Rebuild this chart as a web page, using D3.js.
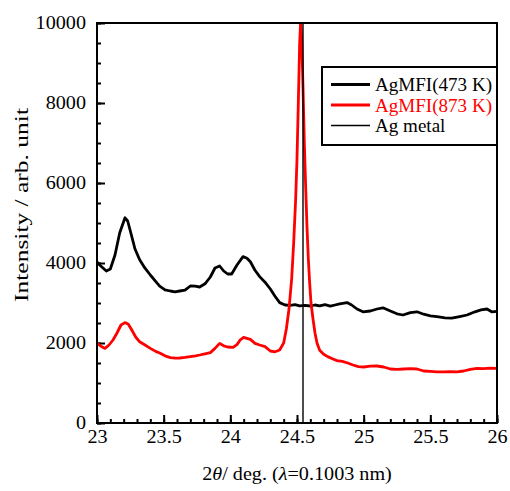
<!DOCTYPE html>
<html><head><meta charset="utf-8">
<script src="https://cdn.jsdelivr.net/npm/d3@7"></script>
<style>body{margin:0;background:#fff}</style>
</head><body><svg id="c" width="510" height="491"></svg>
<script>
const blackX = [23.00,23.02,23.07,23.10,23.135,23.17,23.21,23.23,23.25,23.285,23.32,23.36,23.40,23.435,23.47,23.51,23.55,23.585,23.62,23.66,23.70,23.735,23.77,23.81,23.85,23.885,23.92,23.95,23.98,24.01,24.05,24.095,24.125,24.15,24.185,24.22,24.26,24.30,24.335,24.37,24.41,24.45,24.485,24.52,24.56,24.60,24.635,24.67,24.71,24.75,24.785,24.82,24.875,24.91,24.95,24.995,25.05,25.10,25.145,25.20,25.25,25.295,25.35,25.40,25.45,25.50,25.55,25.61,25.66,25.72,25.775,25.835,25.88,25.925,25.96,26.00];
const blackY = [4025,3950,3800,3850,4200,4750,5130,5050,4800,4350,4080,3870,3700,3560,3420,3330,3300,3280,3300,3320,3425,3420,3400,3480,3650,3875,3925,3800,3725,3725,3950,4160,4120,4030,3820,3660,3520,3350,3170,3010,2950,2940,2960,2930,2940,2925,2950,2930,2960,2920,2950,2980,3010,2950,2850,2780,2800,2850,2880,2800,2730,2700,2760,2780,2720,2680,2660,2630,2620,2660,2700,2780,2830,2850,2780,2790];
const redX = [23.00,23.03,23.06,23.09,23.12,23.15,23.18,23.21,23.235,23.26,23.29,23.32,23.36,23.40,23.44,23.47,23.51,23.55,23.59,23.62,23.66,23.70,23.74,23.77,23.81,23.85,23.885,23.92,23.95,23.98,24.02,24.05,24.075,24.10,24.13,24.15,24.185,24.22,24.26,24.30,24.335,24.37,24.40,24.42,24.44,24.46,24.475,24.49,24.50,24.51,24.52,24.527,24.535,24.545,24.555,24.565,24.575,24.585,24.595,24.605,24.62,24.635,24.65,24.67,24.70,24.73,24.77,24.80,24.84,24.88,24.92,24.96,25.00,25.05,25.10,25.15,25.20,25.25,25.30,25.35,25.40,25.45,25.50,25.55,25.60,25.65,25.70,25.75,25.80,25.85,25.90,25.95,26.00];
const redY = [1990,1920,1865,1950,2075,2250,2450,2510,2470,2330,2150,2030,1950,1865,1790,1750,1680,1635,1620,1625,1640,1660,1680,1700,1730,1760,1865,1990,1930,1900,1890,1960,2080,2140,2110,2090,1990,1950,1910,1800,1780,1825,2000,2350,2850,3600,4500,5600,6600,8000,9500,10000,9600,8400,7000,5900,4900,4100,3500,3000,2600,2250,2000,1820,1720,1660,1600,1560,1540,1500,1450,1410,1400,1420,1425,1400,1350,1340,1350,1360,1350,1300,1290,1280,1280,1285,1280,1300,1340,1365,1360,1370,1365];
const agMetalX = 24.545;
const seriesNames = ["AgMFI(473 K)","AgMFI(873 K)","Ag metal"];
const seriesColors = ["#000000","#ff0000","#000000"];
const xTickValues = [23,23.5,24,24.5,25,25.5,26];
const yTickValues = [0,2000,4000,6000,8000,10000];

const FONT = "'Liberation Serif', 'Times New Roman', Times, serif";
const svg = d3.select("#c");
const m = {l:97,t:23,r:497,b:423};
const x = d3.scaleLinear().domain([23,26]).range([m.l,m.r]);
const y = d3.scaleLinear().domain([0,10000]).range([m.b,m.t]);
const SX = 1.12;

svg.append("defs").append("clipPath").attr("id","clip")
  .append("rect").attr("x",m.l).attr("y",m.t).attr("width",m.r-m.l).attr("height",m.b-m.t);

// x minor ticks
svg.append("g").attr("transform",`translate(0,${m.b})`)
  .call(d3.axisBottom(x).tickValues(d3.range(0,31).map(i=>+(23+i*0.1).toFixed(2))).tickSize(-4).tickFormat(""))
  .call(g=>g.select(".domain").remove());
// x major ticks
const gx = svg.append("g").attr("transform",`translate(0,${m.b})`)
  .call(d3.axisBottom(x).tickValues(xTickValues).tickSize(-8).tickPadding(7).tickFormat(d=>String(d)))
  .call(g=>g.select(".domain").remove());
gx.selectAll("text").attr("font-size",18).attr("transform",`scale(${SX},1)`);

// y minor ticks
svg.append("g").attr("transform",`translate(${m.l},0)`)
  .call(d3.axisLeft(y).tickValues(d3.range(0,21).map(i=>i*500)).tickSize(-4).tickFormat(""))
  .call(g=>g.select(".domain").remove());
const gy = svg.append("g").attr("transform",`translate(${m.l},0)`)
  .call(d3.axisLeft(y).tickValues(yTickValues).tickSize(-8).tickPadding(10).tickFormat(d=>String(d)))
  .call(g=>g.select(".domain").remove());
gy.selectAll("text").attr("font-size",18).attr("x",-11/SX).attr("transform",`scale(${SX},1)`);
svg.selectAll(".tick line").attr("stroke","#000").attr("stroke-width",2);

const plot = svg.append("g").attr("clip-path","url(#clip)");
const line = d3.line().x(d=>x(d[0])).y(d=>y(d[1]));
plot.append("path").datum(blackX.map((v,i)=>[v,blackY[i]]))
  .attr("d",line).attr("fill","none").attr("stroke",seriesColors[0]).attr("stroke-width",2.8).attr("stroke-linejoin","round");
plot.append("path").datum(redX.map((v,i)=>[v,redY[i]]))
  .attr("d",line).attr("fill","none").attr("stroke",seriesColors[1]).attr("stroke-width",2.8).attr("stroke-linejoin","round");
plot.append("line").attr("x1",x(agMetalX)).attr("x2",x(agMetalX)).attr("y1",y(0)).attr("y2",y(10000))
  .attr("stroke",seriesColors[2]).attr("stroke-width",1.4);

// frame
svg.append("rect").attr("x",m.l).attr("y",m.t).attr("width",m.r-m.l).attr("height",m.b-m.t)
  .attr("fill","none").attr("stroke","#000").attr("stroke-width",2);

// legend
const lg = svg.append("g");
lg.append("rect").attr("x",322).attr("y",67).attr("width",m.r-322).attr("height",78)
  .attr("fill","#fff").attr("stroke","#000").attr("stroke-width",2);
const rowY = [84.5,105,125.5];
const rowW = [3,3,1.3];
seriesNames.forEach((n,i)=>{
  lg.append("line").attr("x1",331).attr("x2",370).attr("y1",rowY[i]).attr("y2",rowY[i])
    .attr("stroke",seriesColors[i]).attr("stroke-width",rowW[i]);
  lg.append("text").attr("transform",`translate(375,${rowY[i]+6.5}) scale(1.06,1)`)
    .attr("font-size",18).attr("fill",seriesColors[i]).text(n);
});

// axis titles
const xt = svg.append("text").attr("transform",`translate(297,480) scale(${SX},1)`)
  .attr("text-anchor","middle").attr("font-size",18);
xt.append("tspan").text("2");
xt.append("tspan").attr("font-style","italic").text("θ");
xt.append("tspan").text("/ deg. (");
xt.append("tspan").attr("font-style","italic").text("λ");
xt.append("tspan").text("=0.1003 nm)");

svg.append("text").attr("transform",`translate(28,205) rotate(-90)`)
  .attr("text-anchor","middle").attr("font-size",18)
  .attr("textLength",194).attr("lengthAdjust","spacingAndGlyphs").text("Intensity / arb. unit");

svg.selectAll("text").style("font-family",FONT);
</script></body></html>
